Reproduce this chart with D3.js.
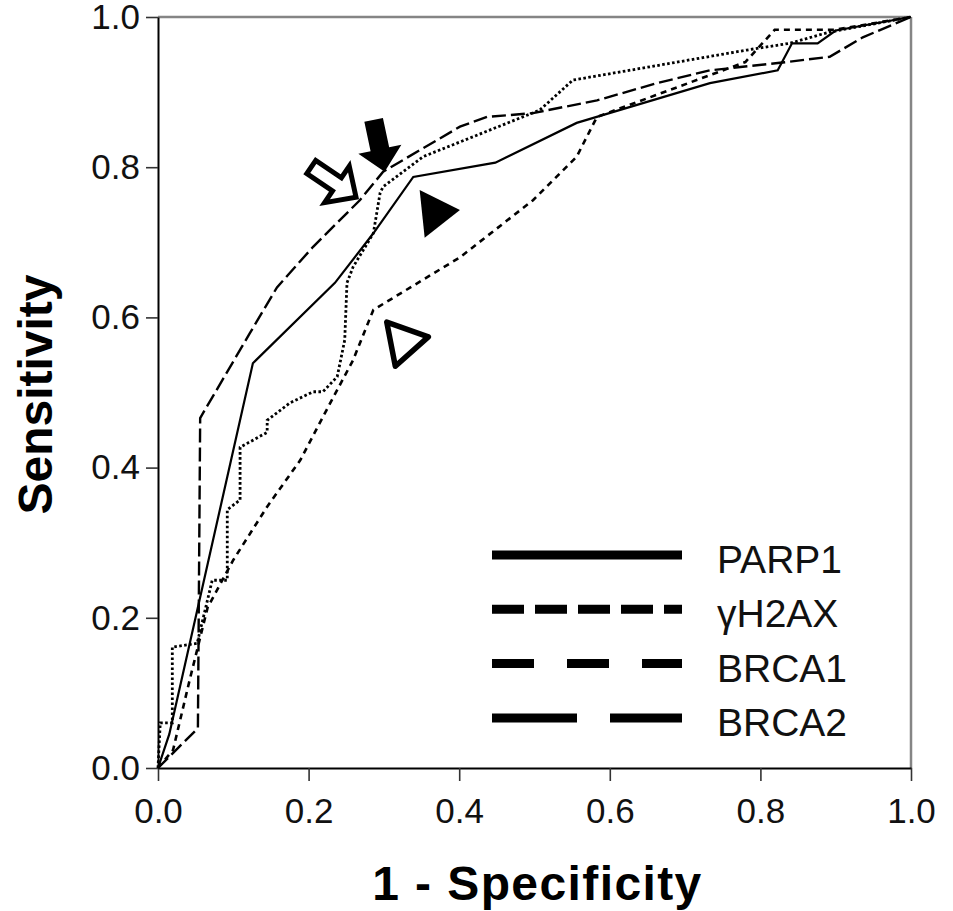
<!DOCTYPE html>
<html>
<head>
<meta charset="utf-8">
<script src="https://cdn.jsdelivr.net/npm/d3@7"></script>
<style>
  body { margin: 0; background: #fff; }
  text { font-family: Arial, "Liberation Sans", sans-serif; }
</style>
</head>
<body>
<div id="chart"></div>
<script>
// ROC points: [1 - specificity, sensitivity]
const parp1 = [[0, 0], [0.015, 0.045], [0.126, 0.539], [0.235, 0.646], [0.286, 0.712],
    [0.339, 0.787], [0.448, 0.806], [0.556, 0.859], [0.733, 0.912], [0.823, 0.929],
    [0.842, 0.965], [0.876, 0.965], [0.90, 0.982], [1, 1]];

const h2ax = [[0, 0], [0.020, 0.024], [0.042, 0.117], [0.066, 0.214], [0.100, 0.277],
    [0.145, 0.348], [0.189, 0.410], [0.224, 0.477], [0.259, 0.543], [0.286, 0.610],
    [0.401, 0.680], [0.498, 0.756], [0.556, 0.814], [0.583, 0.867], [0.780, 0.940],
    [0.819, 0.983], [0.899, 0.983], [1, 1]];

const brca1 = [[0, 0], [0.003, 0.06], [0.019, 0.06], [0.019, 0.161], [0.052, 0.166],
    [0.072, 0.25], [0.092, 0.25], [0.092, 0.344], [0.109, 0.357], [0.109, 0.427],
    [0.145, 0.447], [0.145, 0.463], [0.175, 0.486], [0.206, 0.501], [0.219, 0.501],
    [0.238, 0.521], [0.248, 0.570], [0.251, 0.646], [0.259, 0.667], [0.286, 0.712],
    [0.295, 0.766], [0.299, 0.774], [0.352, 0.814], [0.507, 0.876], [0.551, 0.916],
    [0.782, 0.956], [0.839, 0.965], [0.892, 0.980], [1, 1]];

const brca2 = [[0, 0], [0.053, 0.053], [0.056, 0.466], [0.122, 0.579], [0.158, 0.640],
    [0.206, 0.694], [0.268, 0.756], [0.299, 0.794], [0.401, 0.854], [0.437, 0.867],
    [0.498, 0.872], [0.583, 0.889], [0.663, 0.912], [0.733, 0.929], [0.826, 0.939],
    [0.892, 0.947], [0.936, 0.973], [1, 1]];

const seriesNames = ["PARP1", "γH2AX", "BRCA1", "BRCA2"];
const seriesData = [parp1, h2ax, brca1, brca2];

const xTicks = [0, 0.2, 0.4, 0.6, 0.8, 1.0];
const yTicks = [0, 0.2, 0.4, 0.6, 0.8, 1.0];

// markers placed on the curves: [x, y] of the tip
const markerKind = ["arrowFilled", "arrowOpen", "triFilled", "triOpen"];
const markerAt = [[0.301, 0.794], [0.263, 0.760], [0.401, 0.743], [0.359, 0.574]];

// styles
let plotDash = { "PARP1": null, "γH2AX": "6,5", "BRCA1": "2.6,2.4", "BRCA2": "14,5" };
let plotWidth = { "PARP1": 2.2, "γH2AX": 2.6, "BRCA1": 2.8, "BRCA2": 2.4 };
let legendDash = { "PARP1": null, "γH2AX": "32,11", "BRCA1": "42,33", "BRCA2": "85,33" };

let width = 953, height = 911;
let margin = { top: 17, right: 42, bottom: 143, left: 158 };

let svg = d3.select("#chart").append("svg")
    .attr("width", width)
    .attr("height", height);

let x = d3.scaleLinear().domain([0, 1]).range([margin.left, width - margin.right]);
let y = d3.scaleLinear().domain([0, 1]).range([height - margin.bottom, margin.top]);

// grey frame on top and right
svg.append("line")
    .attr("x1", x(0)).attr("x2", x(1))
    .attr("y1", y(1)).attr("y2", y(1))
    .attr("stroke", "#858585").attr("stroke-width", 2.5);
svg.append("line")
    .attr("x1", x(1)).attr("x2", x(1))
    .attr("y1", y(1)).attr("y2", y(0))
    .attr("stroke", "#858585").attr("stroke-width", 2.5);

let xAxis = svg.append("g")
    .attr("transform", "translate(0," + y(0) + ")")
    .call(d3.axisBottom(x).tickValues(xTicks).tickFormat(d3.format(".1f"))
        .tickSize(13).tickSizeOuter(0).tickPadding(17));

let yAxis = svg.append("g")
    .attr("transform", "translate(" + x(0) + ",0)")
    .call(d3.axisLeft(y).tickValues(yTicks).tickFormat(d3.format(".1f"))
        .tickSize(12).tickSizeOuter(0).tickPadding(6));

svg.selectAll(".domain").attr("stroke", "#000").attr("stroke-width", 2);
svg.selectAll(".tick line").attr("stroke", "#333").attr("stroke-width", 1.6);
svg.selectAll(".tick text")
    .attr("fill", "#111")
    .style("font-size", "35px")
    .style("font-family", "Arial, 'Liberation Sans', sans-serif");

// axis titles
svg.append("text")
    .attr("transform", "translate(52," + (y(0.5) + 2) + ")rotate(-90)")
    .attr("text-anchor", "middle")
    .style("font-size", "48px")
    .style("font-weight", "bold")
    .text("Sensitivity");

svg.append("text")
    .attr("x", (x(0) + x(1)) / 2 + 3)
    .attr("y", 900)
    .attr("text-anchor", "middle")
    .style("font-size", "48px")
    .style("font-weight", "bold")
    .style("letter-spacing", "1.4px")
    .text("1 - Specificity");

// curves
let line = d3.line()
    .x(function(d) { return x(d[0]) })
    .y(function(d) { return y(d[1]) });

seriesNames.forEach(function(name, i) {
    svg.append("path")
        .attr("fill", "none")
        .attr("stroke", "#000")
        .attr("stroke-width", plotWidth[name])
        .attr("stroke-dasharray", plotDash[name])
        .attr("d", line(seriesData[i]));
});

// markers
function arrowPath(len, headLen, headHalf, shaftHalf) {
    return "M0,0L" + (-headLen) + "," + (-headHalf) + "L" + (-headLen) + "," + (-shaftHalf) +
        "L" + (-len) + "," + (-shaftHalf) + "L" + (-len) + "," + shaftHalf +
        "L" + (-headLen) + "," + shaftHalf + "L" + (-headLen) + "," + headHalf + "Z";
}
function triPath(len, half) {
    return "M0,0L" + (-len) + "," + (-half) + "L" + (-len) + "," + half + "Z";
}

markerKind.forEach(function(kind, i) {
    let px = x(markerAt[i][0]), py = y(markerAt[i][1]);
    let m = svg.append("path");
    if (kind === "arrowFilled") {
        m.attr("d", arrowPath(53, 23, 22, 9.5))
            .attr("transform", "translate(" + px + "," + py + ")rotate(78)")
            .attr("fill", "#000");
    } else if (kind === "arrowOpen") {
        m.attr("d", arrowPath(54, 23, 22, 8))
            .attr("transform", "translate(" + px + "," + py + ")rotate(34)")
            .attr("fill", "#fff").attr("stroke", "#000").attr("stroke-width", 5);
    } else if (kind === "triFilled") {
        m.attr("d", triPath(38, 24))
            .attr("transform", "translate(" + px + "," + py + ")rotate(-6)")
            .attr("fill", "#000");
    } else {
        m.attr("d", triPath(38, 22.5))
            .attr("transform", "translate(" + px + "," + py + ")rotate(-11)")
            .attr("fill", "#fff").attr("stroke", "#000").attr("stroke-width", 5.5)
            .attr("stroke-linejoin", "round");
    }
});

// legend
let legend = svg.append("g").attr("transform", "translate(492,555)");
let rowGap = 54.3;

seriesNames.forEach(function(name, i) {
    legend.append("line")
        .attr("x1", 0).attr("x2", 190)
        .attr("y1", i * rowGap).attr("y2", i * rowGap)
        .attr("stroke", "#000")
        .attr("stroke-width", 9)
        .attr("stroke-dasharray", legendDash[name]);
    legend.append("text")
        .attr("x", 225)
        .attr("y", i * rowGap + 18)
        .style("font-size", "39px")
        .attr("fill", "#111")
        .text(name);
});
</script>
</body>
</html>
